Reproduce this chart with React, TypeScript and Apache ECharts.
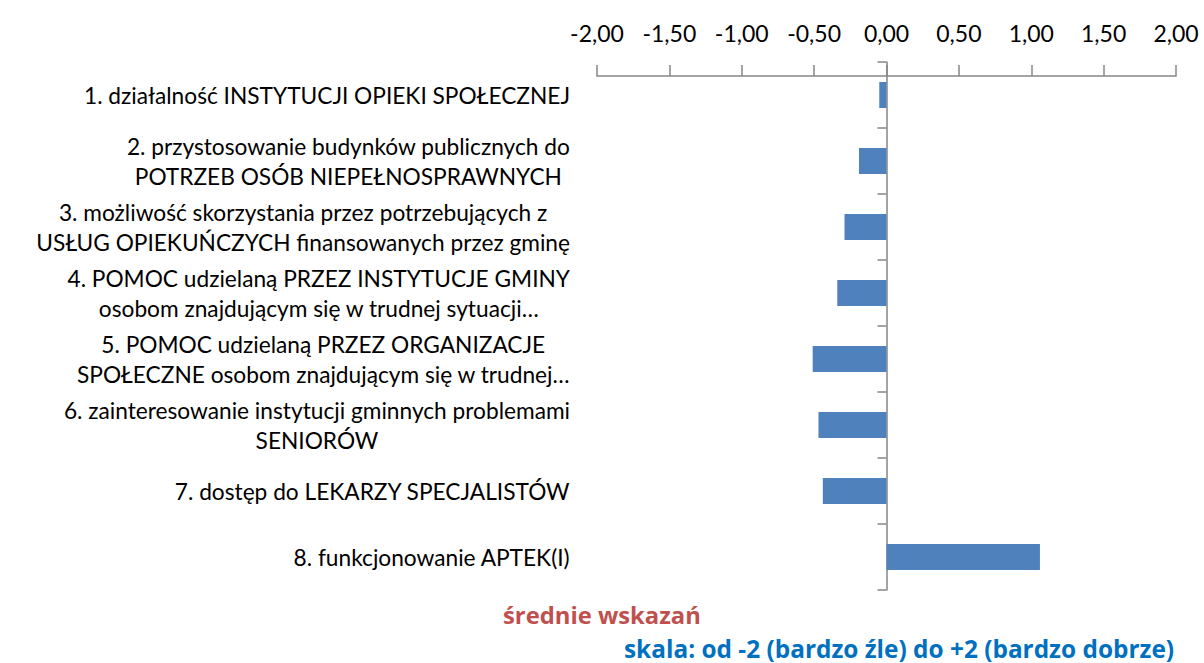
import React, { useEffect, useRef } from "react";
import * as echarts from "echarts";

const categories: string[] = [
  "1. działalność INSTYTUCJI OPIEKI SPOŁECZNEJ",
  "2. przystosowanie budynków publicznych do\nPOTRZEB OSÓB NIEPEŁNOSPRAWNYCH",
  "3. możliwość skorzystania przez potrzebujących z\nUSŁUG OPIEKUŃCZYCH finansowanych przez gminę",
  "4. POMOC udzielaną PRZEZ INSTYTUCJE GMINY\nosobom znajdującym się w trudnej sytuacji…",
  "5. POMOC udzielaną PRZEZ ORGANIZACJE\nSPOŁECZNE osobom znajdującym się w trudnej…",
  "6. zainteresowanie instytucji gminnych problemami\nSENIORÓW",
  "7. dostęp do LEKARZY SPECJALISTÓW",
  "8. funkcjonowanie APTEK(I)",
];

const values: number[] = [-0.05, -0.19, -0.29, -0.34, -0.51, -0.47, -0.44, 1.06];

const axisMin = -2;
const axisMax = 2;
const axisStep = 0.5;

const titleText = "średnie wskazań";
const subtitleText = "skala: od -2 (bardzo źle) do +2 (bardzo dobrze)";

const FONT = "Lato, 'Open Sans', sans-serif";
const TITLE_FONT = "'Open Sans', Lato, sans-serif";
const AXIS_COLOR = "#868686";

export default function App() {
  const ref = useRef<HTMLDivElement>(null);

  useEffect(() => {
    if (!ref.current) return;
    const chart = echarts.init(ref.current, null, { renderer: "svg" });
    chart.setOption({
      animation: false,
      backgroundColor: "#ffffff",
      title: [
        {
          text: titleText,
          left: 503,
          top: 603,
          padding: 0,
          textStyle: { fontFamily: TITLE_FONT, fontSize: 23.8, fontWeight: "bold", color: "#C0504D" },
        },
        {
          text: subtitleText,
          left: 624,
          top: 635,
          padding: 0,
          textStyle: {
            fontFamily: TITLE_FONT,
            fontSize: 24.4,
            lineHeight: 26,
            fontWeight: "bold",
            color: "#0070C0",
          },
        },
      ],
      grid: {
        left: 597,
        right: 28,
        top: 62,
        bottom: 73,
        containLabel: false,
        outerBoundsMode: "none",
      },
      xAxis: {
        type: "value",
        position: "top",
        min: axisMin,
        max: axisMax,
        interval: axisStep,
        offset: -14,
        axisLine: { show: true, lineStyle: { color: AXIS_COLOR, width: 1.5 } },
        axisTick: { show: true, length: 11, lineStyle: { color: AXIS_COLOR, width: 1.5 } },
        axisLabel: {
          formatter: (v: number) => v.toFixed(2).replace(".", ","),
          fontFamily: FONT,
          fontSize: 23,
          color: "#000000",
          margin: 32,
        },
        splitLine: { show: false },
      },
      yAxis: {
        type: "category",
        data: categories,
        inverse: true,
        axisLine: { show: true, onZero: true, lineStyle: { color: AXIS_COLOR, width: 1.5 } },
        axisTick: { show: true, length: 9, lineStyle: { color: AXIS_COLOR, width: 1.5 } },
        axisLabel: {
          interval: 0,
          margin: 27,
          formatter: (s: string) =>
            s
              .split("\n")
              .map((l) => `{c|${l}}`)
              .join("\n"),
          rich: {
            c: {
              align: "center",
              fontFamily: FONT,
              fontSize: 22.7,
              lineHeight: 30,
              color: "#000000",
            },
          },
        },
        splitLine: { show: false },
      },
      series: [
        {
          type: "bar",
          data: values,
          barWidth: 26,
          itemStyle: { color: "#4F81BD" },
        },
      ],
    });
    return () => chart.dispose();
  }, []);

  return (
    <div
      ref={ref}
      style={{ position: "fixed", left: 0, top: 0, width: 1204, height: 663 }}
    />
  );
}
